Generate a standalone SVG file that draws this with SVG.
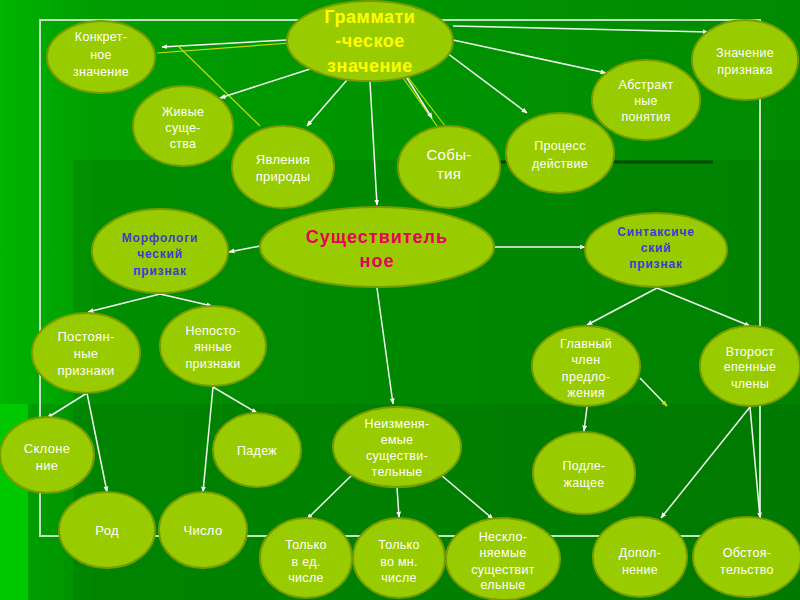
<svg xmlns="http://www.w3.org/2000/svg" width="800" height="600" viewBox="0 0 800 600">
<defs>
<linearGradient id="bg" x1="0" y1="0" x2="1" y2="0">
<stop offset="0" stop-color="#00b400"/>
<stop offset="0.12" stop-color="#009c00"/>
<stop offset="1" stop-color="#008a00"/>
</linearGradient>
<marker id="ar" viewBox="0 0 10 10" refX="9" refY="5" markerWidth="6" markerHeight="6" markerUnits="userSpaceOnUse" orient="auto">
<path d="M0,1 L10,5 L0,9 Z" fill="#ffffff"/>
</marker>
<marker id="ay" viewBox="0 0 10 10" refX="9" refY="5" markerWidth="6" markerHeight="6" markerUnits="userSpaceOnUse" orient="auto">
<path d="M0,1 L10,5 L0,9 Z" fill="#c8dc00"/>
</marker>
<style>
.n ellipse{fill:#99cc00;stroke:#779c00;stroke-width:2}
.t{font-family:"Liberation Sans",Arial,sans-serif;font-size:12.5px;fill:#ffffff;text-anchor:middle;letter-spacing:0.3px}
.b{font-family:"Liberation Sans",Arial,sans-serif;font-size:12px;font-weight:bold;fill:#3b3bd6;text-anchor:middle;letter-spacing:0.8px}
.c line{stroke:#f0f8f0;stroke-width:1.5;marker-end:url(#ar)}
.c line.y{stroke:#c8dc00;stroke-width:1.2;marker-end:none}
.frame{fill:none;stroke:#c0e6c0;stroke-width:2}
</style>
</defs>
<rect x="0" y="0" width="800" height="600" fill="url(#bg)"/>
<rect x="0" y="404" width="28" height="196" fill="#00c800"/>
<rect x="73" y="160" width="727" height="440" fill="#006a00" opacity="0.28"/>
<rect x="28" y="404" width="772" height="196" fill="#005a00" opacity="0.18"/>
<line x1="500" y1="162" x2="713" y2="162" stroke="#004a00" stroke-width="3"/>
<rect class="frame" x="40" y="20" width="720" height="516"/>

<g id="connectors" class="c">
<line x1="287" y1="40" x2="162" y2="47"/>
<line class="y" x1="290" y1="43" x2="157" y2="53"/>
<line class="y" x1="178" y1="46" x2="260" y2="126"/>
<line class="y" x1="401" y1="75" x2="437" y2="126"/>
<line class="y" x1="404" y1="72" x2="445" y2="126"/>
<line x1="310" y1="69" x2="220" y2="98"/>
<line x1="347" y1="80" x2="307" y2="126"/>
<line x1="370" y1="82" x2="377" y2="205"/>
<line x1="405" y1="75" x2="432" y2="118"/>
<line x1="447" y1="53" x2="527" y2="113"/>
<line x1="453" y1="40" x2="606" y2="73"/>
<line x1="453" y1="26" x2="708" y2="32"/>
<line x1="260" y1="246" x2="229" y2="252"/>
<line x1="495" y1="247" x2="585" y2="247"/>
<line x1="377" y1="288" x2="393" y2="404"/>
<line x1="160" y1="294" x2="88" y2="312"/>
<line x1="160" y1="294" x2="212" y2="306"/>
<line x1="87" y1="393" x2="47" y2="418"/>
<line x1="87" y1="393" x2="107" y2="492"/>
<line x1="213" y1="387" x2="203" y2="492"/>
<line x1="213" y1="387" x2="257" y2="413"/>
<line x1="657" y1="288" x2="587" y2="325"/>
<line x1="657" y1="288" x2="750" y2="326"/>
<line x1="587" y1="407" x2="584" y2="431"/>
<line x1="750" y1="407" x2="661" y2="518"/>
<line x1="750" y1="407" x2="760" y2="518"/>
<line x1="352" y1="475" x2="307" y2="519"/>
<line x1="397" y1="487" x2="399" y2="517"/>
<line x1="441" y1="475" x2="493" y2="519"/>
<line x1="640" y1="378" x2="667" y2="406" stroke="#c8dc00" stroke-width="1.2" style="marker-end:url(#ay)"/>
</g>

<g id="grammatical" class="n"><ellipse cx="370" cy="41" rx="83" ry="40"/>
<text class="t" style="font-size:18px;font-weight:bold;fill:#ffff00;letter-spacing:0.5px"><tspan x="370" y="23">Граммати</tspan><tspan x="370" y="47">-ческое</tspan><tspan x="370" y="72">значение</tspan></text></g>

<g id="konkret" class="n"><ellipse cx="101" cy="57" rx="54" ry="36"/>
<text class="t"><tspan x="101" y="41">Конкрет-</tspan><tspan x="101" y="59">ное</tspan><tspan x="101" y="76">значение</tspan></text></g>

<g id="zhivye" class="n"><ellipse cx="183" cy="126" rx="50" ry="40"/>
<text class="t"><tspan x="183" y="116">Живые</tspan><tspan x="183" y="132">суще-</tspan><tspan x="183" y="148">ства</tspan></text></g>

<g id="yavleniya" class="n"><ellipse cx="283" cy="167" rx="51" ry="41"/>
<text class="t" style="font-size:13px"><tspan x="283" y="164">Явления</tspan><tspan x="283" y="181">природы</tspan></text></g>

<g id="sobytiya" class="n"><ellipse cx="449" cy="167" rx="51" ry="41"/>
<text class="t" style="font-size:15px"><tspan x="449" y="160">Собы-</tspan><tspan x="449" y="179">тия</tspan></text></g>

<g id="process" class="n"><ellipse cx="560" cy="153" rx="54" ry="40"/>
<text class="t"><tspan x="560" y="150">Процесс</tspan><tspan x="560" y="168">действие</tspan></text></g>

<g id="abstract" class="n"><ellipse cx="646" cy="100" rx="54" ry="40"/>
<text class="t"><tspan x="646" y="89">Абстракт</tspan><tspan x="646" y="105">ные</tspan><tspan x="646" y="121">понятия</tspan></text></g>

<g id="znachenie-priznaka" class="n"><ellipse cx="745" cy="60" rx="53" ry="40"/>
<text class="t"><tspan x="745" y="57">Значение</tspan><tspan x="745" y="74">признака</tspan></text></g>

<g id="morfolog" class="n"><ellipse cx="160" cy="251" rx="68" ry="42"/>
<text class="b"><tspan x="160" y="242">Морфологи</tspan><tspan x="160" y="258">ческий</tspan><tspan x="160" y="275">признак</tspan></text></g>

<g id="sushchestvitelnoe" class="n"><ellipse cx="377" cy="247" rx="117" ry="40"/>
<text class="t" style="font-size:18px;font-weight:bold;fill:#e8005a;letter-spacing:1px"><tspan x="377" y="243">Существитель</tspan><tspan x="377" y="267">ное</tspan></text></g>

<g id="sintaksich" class="n"><ellipse cx="656" cy="250" rx="71" ry="37"/>
<text class="b"><tspan x="656" y="236">Синтаксиче</tspan><tspan x="656" y="252">ский</tspan><tspan x="656" y="268">признак</tspan></text></g>

<g id="postoyannye" class="n"><ellipse cx="86" cy="353" rx="54" ry="40"/>
<text class="t" style="font-size:13px"><tspan x="86" y="341">Постоян-</tspan><tspan x="86" y="358">ные</tspan><tspan x="86" y="375">признаки</tspan></text></g>

<g id="nepostoyannye" class="n"><ellipse cx="213" cy="346" rx="53" ry="40"/>
<text class="t"><tspan x="213" y="335">Непосто-</tspan><tspan x="213" y="351">янные</tspan><tspan x="213" y="368">признаки</tspan></text></g>

<g id="glavny" class="n"><ellipse cx="586" cy="366" rx="54" ry="40"/>
<text class="t"><tspan x="586" y="348">Главный</tspan><tspan x="586" y="364">член</tspan><tspan x="586" y="381">предло-</tspan><tspan x="586" y="397">жения</tspan></text></g>

<g id="vtorostepennye" class="n"><ellipse cx="750" cy="366" rx="50" ry="40"/>
<text class="t"><tspan x="750" y="356">Второст</tspan><tspan x="750" y="371">епенные</tspan><tspan x="750" y="388">члены</tspan></text></g>

<g id="sklonenie" class="n"><ellipse cx="47" cy="455" rx="47" ry="38"/>
<text class="t" style="font-size:13px"><tspan x="47" y="453">Склоне</tspan><tspan x="47" y="470">ние</tspan></text></g>

<g id="padezh" class="n"><ellipse cx="257" cy="450" rx="44" ry="37"/>
<text class="t"><tspan x="257" y="455">Падеж</tspan></text></g>

<g id="neizmenyaemye" class="n"><ellipse cx="397" cy="447" rx="64" ry="40"/>
<text class="t"><tspan x="397" y="428">Неизменя-</tspan><tspan x="397" y="444">емые</tspan><tspan x="397" y="460">существи-</tspan><tspan x="397" y="476">тельные</tspan></text></g>

<g id="podlezhashchee" class="n"><ellipse cx="584" cy="473" rx="51" ry="41"/>
<text class="t"><tspan x="584" y="470">Подле-</tspan><tspan x="584" y="487">жащее</tspan></text></g>

<g id="rod" class="n"><ellipse cx="107" cy="530" rx="48" ry="38"/>
<text class="t" style="font-size:13px"><tspan x="107" y="535">Род</tspan></text></g>

<g id="chislo" class="n"><ellipse cx="203" cy="530" rx="44" ry="38"/>
<text class="t" style="font-size:13px"><tspan x="203" y="535">Число</tspan></text></g>

<g id="tolko-ed" class="n"><ellipse cx="306" cy="558" rx="46" ry="40"/>
<text class="t"><tspan x="306" y="549">Только</tspan><tspan x="306" y="566">в ед.</tspan><tspan x="306" y="582">числе</tspan></text></g>

<g id="tolko-mn" class="n"><ellipse cx="399" cy="558" rx="46" ry="40"/>
<text class="t"><tspan x="399" y="549">Только</tspan><tspan x="399" y="566">во мн.</tspan><tspan x="399" y="582">числе</tspan></text></g>

<g id="nesklonyaemye" class="n"><ellipse cx="503" cy="559" rx="57" ry="41"/>
<text class="t"><tspan x="503" y="541">Нескло-</tspan><tspan x="503" y="557">няемые</tspan><tspan x="503" y="574">существит</tspan><tspan x="503" y="589">ельные</tspan></text></g>

<g id="dopolnenie" class="n"><ellipse cx="640" cy="557" rx="47" ry="40"/>
<text class="t"><tspan x="640" y="557">Допол-</tspan><tspan x="640" y="574">нение</tspan></text></g>

<g id="obstoyatelstvo" class="n"><ellipse cx="747" cy="557" rx="54" ry="40"/>
<text class="t"><tspan x="747" y="557">Обстоя-</tspan><tspan x="747" y="574">тельство</tspan></text></g>
</svg>
